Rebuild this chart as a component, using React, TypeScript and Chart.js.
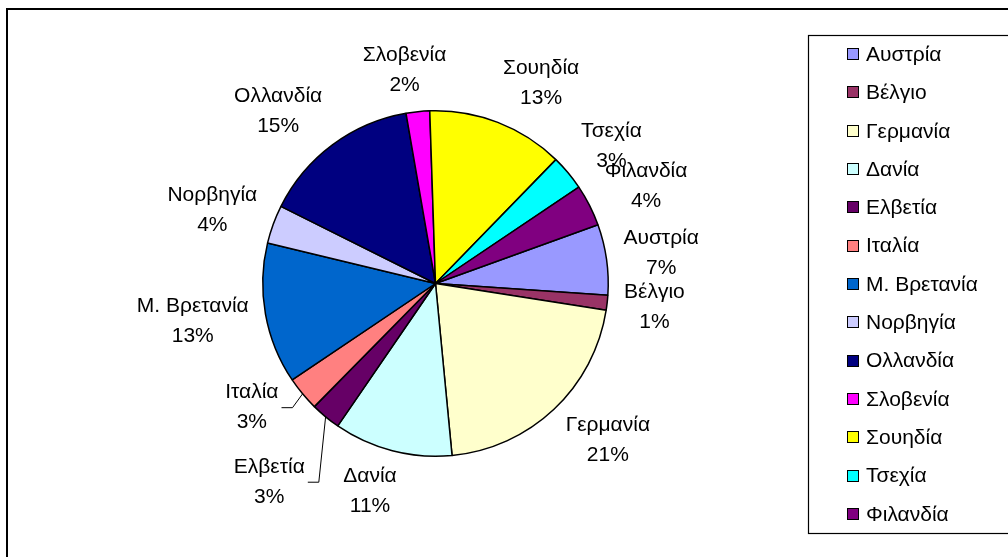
import React, { useEffect, useRef } from "react";
import { Chart, registerables } from "chart.js";

Chart.register(...registerables);

// ---- data ----
const countries = [
  "Αυστρία",
  "Βέλγιο",
  "Γερμανία",
  "Δανία",
  "Ελβετία",
  "Ιταλία",
  "Μ. Βρετανία",
  "Νορβηγία",
  "Ολλανδία",
  "Σλοβενία",
  "Σουηδία",
  "Τσεχία",
  "Φιλανδία",
];
const shares = [6.6, 1.4, 21.0, 11.1, 2.8, 3.2, 13.2, 3.6, 14.9, 2.2, 12.8, 3.3, 3.9];
const sliceColors = [
  "#9999FF",
  "#993366",
  "#FFFFCC",
  "#CCFFFF",
  "#660066",
  "#FF8080",
  "#0066CC",
  "#CCCCFF",
  "#000080",
  "#FF00FF",
  "#FFFF00",
  "#00FFFF",
  "#800080",
];

const FONT = '21px "Liberation Sans", Arial, sans-serif';

// labels that were dragged away from their default spot (with leader lines)
const labelNudges: Record<string, [number, number]> = {
  "Ιταλία": [-11, -13],
  "Ελβετία": [-10, 33],
};

const pieLabelPlugin = {
  id: "pieLabels",
  afterDatasetsDraw(chart: any, _args: any, opts: any) {
    const ctx: CanvasRenderingContext2D = chart.ctx;
    const meta = chart.getDatasetMeta(0);
    const data = chart.data.datasets[0].data as number[];
    const total = data.reduce((a, b) => a + b, 0);
    ctx.save();
    ctx.font = opts.font;
    ctx.fillStyle = "#000";
    ctx.strokeStyle = "#000";
    ctx.lineWidth = 1;
    ctx.textAlign = "center";
    ctx.textBaseline = "middle";
    meta.data.forEach((arc: any, i: number) => {
      const { x, y, startAngle, endAngle, outerRadius } = arc.getProps(
        ["x", "y", "startAngle", "endAngle", "outerRadius"],
        true
      );
      const mid = (startAngle + endAngle) / 2;
      const cx = Math.cos(mid);
      const sy = Math.sin(mid);
      const name = String(chart.data.labels[i]);
      const pct = Math.round((data[i] / total) * 100) + "%";
      const w = Math.max(ctx.measureText(name).width, ctx.measureText(pct).width);
      const h = opts.lineGap + opts.lineHeight;
      const R = outerRadius + opts.gap;
      let bx = x + R * cx + (w / 2) * Math.max(-1, Math.min(1, opts.k * cx));
      let by = y + R * sy + (h / 2) * sy;
      const nudge = opts.nudges[name];
      if (nudge) {
        bx += nudge[0];
        by += nudge[1];
        const ex = x + outerRadius * cx;
        const ey = y + outerRadius * sy;
        const side = cx < 0 ? 1 : -1;
        const edgeX = bx + side * (w / 2);
        ctx.beginPath();
        ctx.moveTo(ex, ey);
        ctx.lineTo(edgeX + side * 14, by);
        ctx.lineTo(edgeX + side * 3, by);
        ctx.stroke();
      }
      ctx.fillText(name, bx, by - opts.lineGap / 2);
      ctx.fillText(pct, bx, by + opts.lineGap / 2);
    });
    ctx.restore();
  },
};

const boxLegendPlugin = {
  id: "boxLegend",
  afterDraw(chart: any, _args: any, o: any) {
    const ctx: CanvasRenderingContext2D = chart.ctx;
    const ds = chart.data.datasets[0];
    const labels = chart.data.labels as string[];
    ctx.save();
    // outer chart frame
    ctx.strokeStyle = "#000";
    ctx.lineWidth = 2;
    ctx.strokeRect(7, 9, 1200, 1200);
    // legend frame
    ctx.lineWidth = 1.2;
    ctx.strokeRect(o.left + 0.5, o.top + 0.5, o.width, o.height);
    const step = o.height / labels.length;
    ctx.font = o.font;
    ctx.textAlign = "left";
    ctx.textBaseline = "middle";
    labels.forEach((lab, i) => {
      const cy = o.top + step * (i + 0.5);
      const sx = o.left + o.swatchX;
      const s = o.swatch;
      ctx.fillStyle = ds.backgroundColor[i];
      ctx.fillRect(sx, Math.round(cy - s / 2), s, s);
      ctx.lineWidth = 1;
      ctx.strokeStyle = "#000";
      ctx.strokeRect(sx + 0.5, Math.round(cy - s / 2) + 0.5, s - 1, s - 1);
      ctx.fillStyle = "#000";
      ctx.fillText(lab, o.left + o.textX, cy + 1);
    });
    ctx.restore();
  },
};

export default function App() {
  const ref = useRef<HTMLCanvasElement | null>(null);
  useEffect(() => {
    document.body.style.margin = "0";
    const canvas = ref.current!;
    const chart = new Chart(canvas, {
      type: "pie",
      data: {
        labels: countries,
        datasets: [
          {
            data: shares,
            backgroundColor: sliceColors,
            borderColor: "#000",
            borderWidth: 1.5,
          },
        ],
      },
      options: {
        responsive: false,
        animation: false,
        events: [],
        rotation: 70.1,
        layout: { padding: { left: 262, top: 110, right: 399, bottom: 100 } },
        plugins: {
          legend: { display: false },
          tooltip: { enabled: false },
          pieLabels: {
            font: FONT,
            lineGap: 30,
            lineHeight: 20,
            gap: 17,
            k: 2.7,
            nudges: labelNudges,
          },
          boxLegend: {
            left: 808,
            top: 35,
            width: 400,
            height: 498,
            swatchX: 39,
            swatch: 12,
            textX: 58,
            font: FONT,
          },
        } as any,
      },
      plugins: [pieLabelPlugin, boxLegendPlugin],
    });
    return () => chart.destroy();
  }, []);
  return (
    <div style={{ position: "absolute", left: 0, top: 0, width: 1008, height: 557, background: "#fff" }}>
      <canvas ref={ref} width={1008} height={557} style={{ display: "block", width: 1008, height: 557 }} />
    </div>
  );
}
